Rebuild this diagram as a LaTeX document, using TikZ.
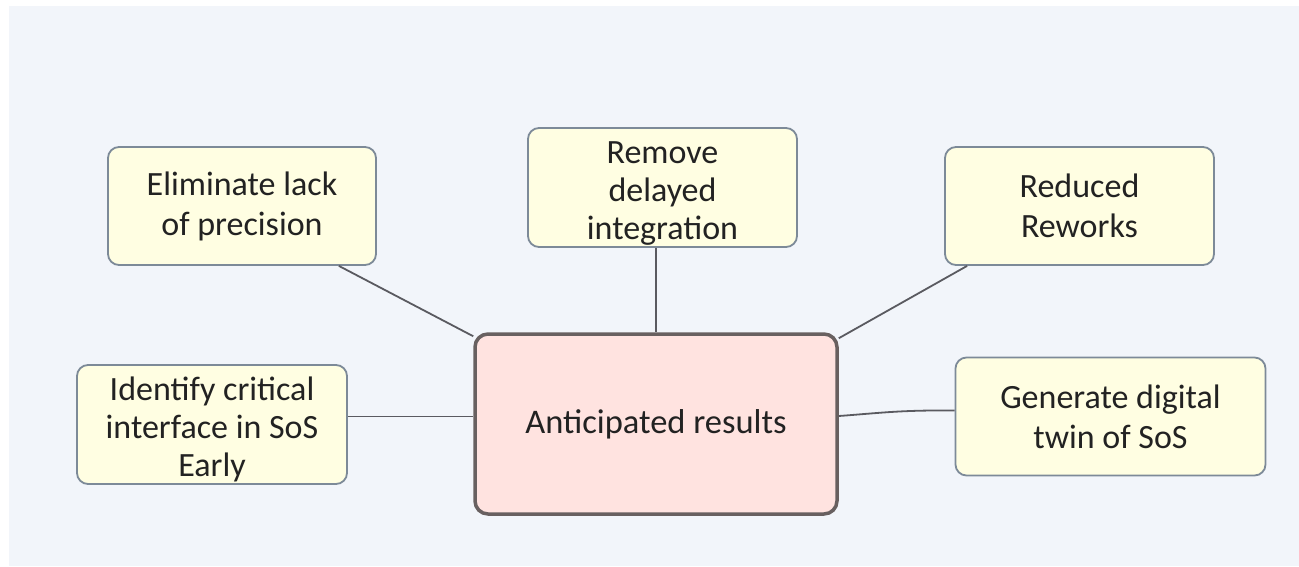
\documentclass[tikz,border=0pt]{standalone}
\usepackage{fontspec}
\setmainfont{Carlito}
\definecolor{bgc}{HTML}{F2F5FA}
\definecolor{boxfill}{HTML}{FFFEE2}
\definecolor{boxline}{HTML}{7D8A98}
\definecolor{cfill}{HTML}{FFE3E0}
\definecolor{cline}{HTML}{686060}
\definecolor{conn}{HTML}{5A5A60}
\definecolor{txt}{HTML}{222222}
\begin{document}
\begin{tikzpicture}[x=1pt,y=-1pt,
  leaf/.style={draw=boxline, line width=1.8pt, fill=boxfill, rounded corners=11pt,
    inner sep=0pt, align=center, text=txt, font=\fontsize{34}{40}\selectfont},
  tight/.style={font=\fontsize{34}{38}\selectfont},
  hub/.style={draw=cline, line width=3.5pt, fill=cfill, rounded corners=13pt,
    inner sep=0pt, align=center, text=txt, font=\fontsize{34.5}{40}\selectfont,
    minimum width=362pt, minimum height=180pt},
  link/.style={draw=conn, line width=1.8pt}]
\useasboundingbox (0,0) rectangle (1299,566);
\fill[bgc] (9,6) rectangle (1299,566);

\node[hub] (c) at (656,424) {Anticipated results};

\node[leaf, minimum width=268pt, minimum height=118pt] (elim) at (242,206)
  {Eliminate lack\\of precision};
\node[leaf, tight, minimum width=269pt, minimum height=119pt] (rem) at (662.5,187.5)
  {\rule{0pt}{33pt}Remove\\delayed\\integration};
\node[leaf, minimum width=269pt, minimum height=118pt] (red) at (1079.5,206)
  {Reduced\\Reworks};
\node[leaf, tight, minimum width=270pt, minimum height=119pt] (ident) at (212,424.5)
  {\rule{0pt}{34pt}Identify critical\\interface in SoS\\Early};
\node[leaf, minimum width=310pt, minimum height=118pt] (gen) at (1110.5,416.5)
  {Generate digital\\twin of SoS};

\coordinate (identend) at ([yshift=8pt]ident.east);
\draw[link] ([xshift=-38pt]elim.south east) -- ([yshift=-4pt]c.north west);
\draw[link] (c.north |- rem.south) -- (c.north);
\draw[link] ([xshift=23pt]red.south west) -- ([yshift=-6pt]c.north east);
\draw[link] (identend) -- (c.west |- identend);
\draw[link] ([yshift=8pt]c.east) .. controls (880,413) and (900,410) .. ([yshift=6pt]gen.west);
\end{tikzpicture}
\end{document}
